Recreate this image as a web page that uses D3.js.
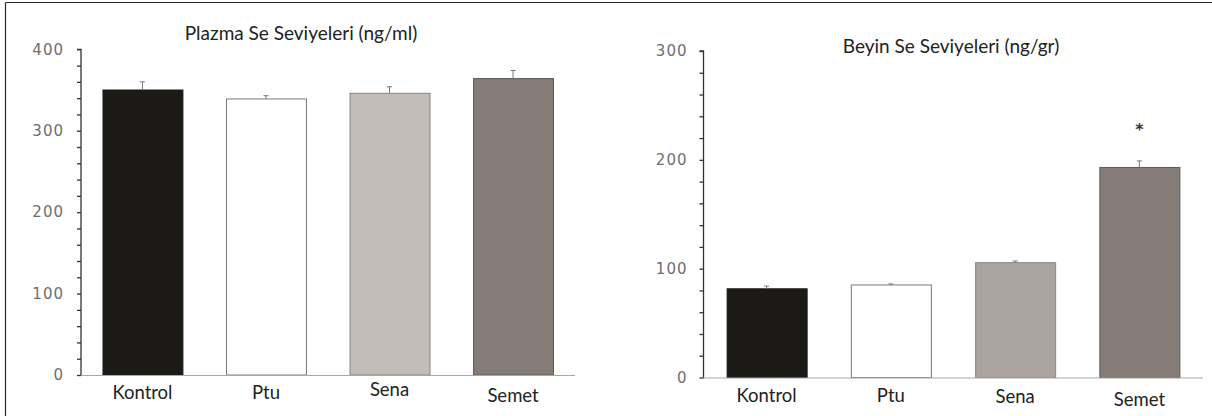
<!DOCTYPE html>
<html><head><meta charset="utf-8">
<script src="https://cdn.jsdelivr.net/npm/d3@7"></script>
<style>
html,body{margin:0;padding:0;background:#fff;}
svg{display:block;}
</style></head>
<body>
<svg id="c" width="1212" height="416"></svg>
<script>
// ---- data ----
const categories = ["Kontrol", "Ptu", "Sena", "Semet"];
const plasmaValues = [350, 339, 346, 364];
const plasmaErrors = [10, 4, 8, 10];
const brainValues = [81.5, 85, 105.5, 193];
const brainErrors = [2.5, 1, 1.5, 6];
const brainMarks = ["", "", "", "*"];
const plasmaTicks = [0, 100, 200, 300, 400];
const brainTicks = [0, 100, 200, 300];
const plasmaTitle = "Plazma Se Seviyeleri (ng/ml)";
const brainTitle = "Beyin Se Seviyeleri (ng/gr)";

// ---- styles ----
const plasmaFill = ["#1b1a17", "#ffffff", "#c3bcb7", "#857c77"];
const brainFill = ["#1b1a17", "#ffffff", "#aba39f", "#857c77"];
const strokeCol = ["#1b1a17", "#7a7a7a", "#8a837e", "#5f5853"];
const plasmaLabelDy = [0, 0, -3, 3];
const brainLabelDy = [0, 0, 1, 4];

const svg = d3.select("#c");

// frame
svg.append("line").attr("x1", 5.5).attr("x2", 1212).attr("y1", 2.5).attr("y2", 2.5)
  .attr("stroke", "#2a2a2a").attr("stroke-width", 1.2);
svg.append("line").attr("x1", 5.5).attr("x2", 5.5).attr("y1", 2.5).attr("y2", 416)
  .attr("stroke", "#2a2a2a").attr("stroke-width", 1.2);

function panel(opt) {
  const g = svg.append("g");
  const x = d3.scaleBand().domain(categories).range(opt.xr)
    .paddingInner(opt.pin).paddingOuter(opt.pout);
  const y = d3.scaleLinear().domain([0, opt.max]).range(opt.yr);

  // bars
  g.selectAll("rect.bar").data(opt.values).join("rect")
    .attr("class", "bar")
    .attr("x", (d, i) => x(categories[i]) + 0.5)
    .attr("y", d => y(d))
    .attr("width", x.bandwidth())
    .attr("height", d => y(0) - y(d))
    .attr("fill", (d, i) => opt.fill[i])
    .attr("stroke", (d, i) => strokeCol[i])
    .attr("stroke-width", 1);

  // error bars
  const eb = g.selectAll("g.err").data(opt.values).join("g").attr("class", "err");
  eb.append("line")
    .attr("x1", (d, i) => x(categories[i]) + x.bandwidth() / 2)
    .attr("x2", (d, i) => x(categories[i]) + x.bandwidth() / 2)
    .attr("y1", d => y(d))
    .attr("y2", (d, i) => y(d + opt.errors[i]))
    .attr("stroke", "#777").attr("stroke-width", 1);
  eb.append("line")
    .attr("x1", (d, i) => x(categories[i]) + x.bandwidth() / 2 - 2.5)
    .attr("x2", (d, i) => x(categories[i]) + x.bandwidth() / 2 + 2.5)
    .attr("y1", (d, i) => y(d + opt.errors[i]))
    .attr("y2", (d, i) => y(d + opt.errors[i]))
    .attr("stroke", "#777").attr("stroke-width", 1);

  // marks
  if (opt.marks) {
    g.selectAll("text.mark").data(opt.values).join("text")
      .attr("class", "mark")
      .attr("x", (d, i) => x(categories[i]) + x.bandwidth() / 2)
      .attr("y", (d, i) => y(d + opt.errors[i]) - 26)
      .attr("text-anchor", "middle")
      .attr("font-family", "DejaVu Sans")
      .attr("font-size", 16).attr("font-weight", "bold")
      .attr("fill", "#333")
      .text((d, i) => opt.marks[i]);
  }

  // x axis line
  g.append("line").attr("x1", opt.xr[0]).attr("x2", opt.xr[1])
    .attr("y1", y(0) + 0.5).attr("y2", y(0) + 0.5)
    .attr("stroke", "#a8a8a8").attr("stroke-width", 1);

  // x labels
  g.selectAll("text.xl").data(categories).join("text")
    .attr("class", "xl")
    .attr("x", d => x(d) + x.bandwidth() / 2)
    .attr("y", (d, i) => opt.labelY + opt.labelDy[i])
    .attr("text-anchor", "middle")
    .attr("font-family", "Lato")
    .attr("font-size", 18.5)
    .attr("fill", "#222")
    .text(d => d);

  // y axis
  const minor = d3.range(0, opt.max + 1, 20);
  const ax = d3.axisLeft(y).tickValues(minor).tickSize(4).tickPadding(opt.tpad)
    .tickFormat(d => opt.ticks.includes(d) ? d : "");
  const ag = g.append("g").attr("transform", `translate(${opt.xr[0] + 0.5},0)`).call(ax);
  ag.select(".domain").attr("stroke", "#333").attr("stroke-width", 1.3)
    .attr("d", `M-4,${y(opt.max)}H0V${y(0)}`);
  ag.selectAll(".tick line").attr("stroke", "#333").attr("stroke-width", 1.3);
  ag.selectAll(".tick text")
    .attr("font-family", "DejaVu Sans")
    .attr("font-size", 15)
    .attr("letter-spacing", "1px")
    .attr("fill", "#6e6e6e");

  // title
  g.append("text").attr("x", opt.titleX).attr("y", opt.titleY)
    .attr("text-anchor", "middle")
    .attr("font-family", "Lato").attr("font-size", 19)
    .attr("fill", "#222")
    .text(opt.title);
}

panel({
  values: plasmaValues, errors: plasmaErrors, max: 400, ticks: plasmaTicks,
  xr: [80.5, 575], yr: [375, 49.3], pin: 0.353, pout: 0.178,
  fill: plasmaFill, labelY: 399, labelDy: plasmaLabelDy, tpad: 13,
  title: plasmaTitle, titleX: 301, titleY: 40
});

panel({
  values: brainValues, errors: brainErrors, max: 300, ticks: brainTicks, marks: brainMarks,
  xr: [703, 1203], yr: [377.5, 51], pin: 0.356, pout: 0.19,
  fill: brainFill, labelY: 402, labelDy: brainLabelDy, tpad: 12,
  title: brainTitle, titleX: 951, titleY: 53
});
</script>
</body></html>
